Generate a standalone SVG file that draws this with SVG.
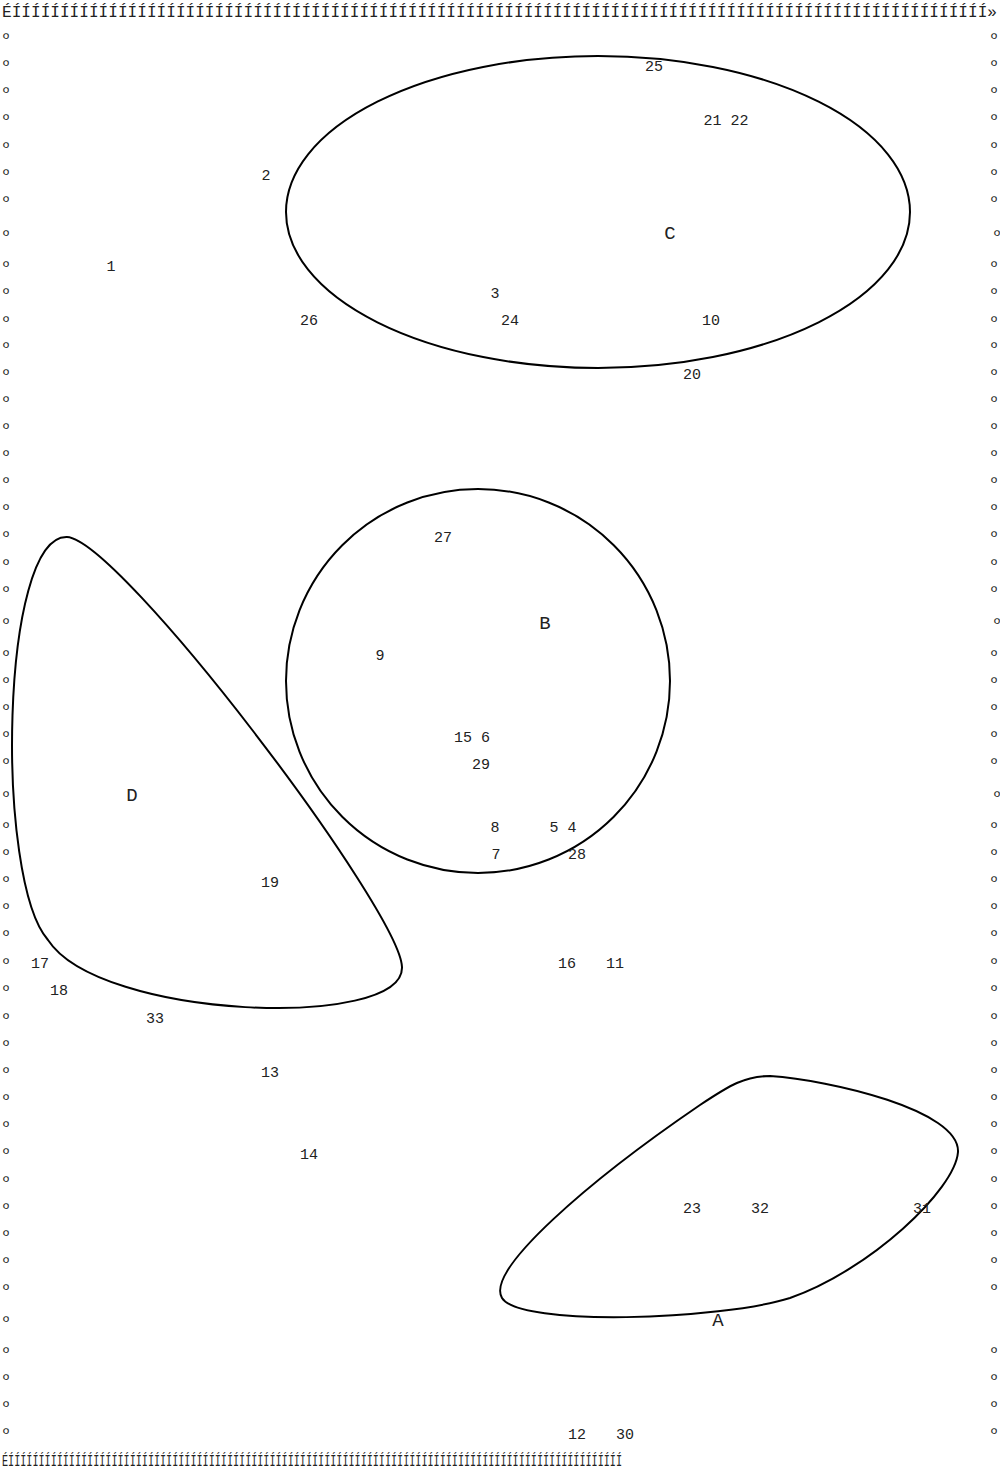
<svg xmlns="http://www.w3.org/2000/svg" width="1000" height="1473" viewBox="0 0 1000 1473">
<style>
.t{font-family:"Liberation Mono","DejaVu Sans Mono",monospace;font-size:15px;fill:#222;text-anchor:middle}
.b{font-family:"Liberation Mono","DejaVu Sans Mono",monospace;font-size:19px;fill:#222;text-anchor:middle}
.s{font-family:"Liberation Mono","DejaVu Sans Mono",monospace;font-size:15px;fill:#222;text-anchor:middle}
.f{font-family:"Liberation Mono","DejaVu Sans Mono",monospace;font-size:16px;fill:#222}
.sh{fill:none;stroke:#000;stroke-width:2}
</style>
<rect width="1000" height="1473" fill="#fff"/>
<g id="frame">
<text class="f" x="2" y="17" textLength="995" lengthAdjust="spacingAndGlyphs">ÉÍÍÍÍÍÍÍÍÍÍÍÍÍÍÍÍÍÍÍÍÍÍÍÍÍÍÍÍÍÍÍÍÍÍÍÍÍÍÍÍÍÍÍÍÍÍÍÍÍÍÍÍÍÍÍÍÍÍÍÍÍÍÍÍÍÍÍÍÍÍÍÍÍÍÍÍÍÍÍÍÍÍÍÍÍÍÍÍÍÍÍÍÍÍÍÍÍÍÍÍÍ»</text>
<text class="f" x="2" y="1466" textLength="620" lengthAdjust="spacingAndGlyphs">ÉÍÍÍÍÍÍÍÍÍÍÍÍÍÍÍÍÍÍÍÍÍÍÍÍÍÍÍÍÍÍÍÍÍÍÍÍÍÍÍÍÍÍÍÍÍÍÍÍÍÍÍÍÍÍÍÍÍÍÍÍÍÍÍÍÍÍÍÍÍÍÍÍÍÍÍÍÍÍÍÍÍÍÍÍÍÍÍÍÍÍÍÍÍÍÍÍÍÍÍÍÍ</text>
<g class="s">
<text x="6" y="44">º</text><text x="994" y="44">º</text>
<text x="6" y="71">º</text><text x="994" y="71">º</text>
<text x="6" y="98">º</text><text x="994" y="98">º</text>
<text x="6" y="125">º</text><text x="994" y="125">º</text>
<text x="6" y="153">º</text><text x="994" y="153">º</text>
<text x="6" y="180">º</text><text x="994" y="180">º</text>
<text x="6" y="207">º</text><text x="994" y="207">º</text>
<text x="6" y="241">º</text><text x="997" y="241">º</text>
<text x="6" y="272">º</text><text x="994" y="272">º</text>
<text x="6" y="299">º</text><text x="994" y="299">º</text>
<text x="6" y="327">º</text><text x="994" y="327">º</text>
<text x="6" y="353">º</text><text x="994" y="353">º</text>
<text x="6" y="380">º</text><text x="994" y="380">º</text>
<text x="6" y="407">º</text><text x="994" y="407">º</text>
<text x="6" y="434">º</text><text x="994" y="434">º</text>
<text x="6" y="461">º</text><text x="994" y="461">º</text>
<text x="6" y="488">º</text><text x="994" y="488">º</text>
<text x="6" y="515">º</text><text x="994" y="515">º</text>
<text x="6" y="542">º</text><text x="994" y="542">º</text>
<text x="6" y="570">º</text><text x="994" y="570">º</text>
<text x="6" y="597">º</text><text x="994" y="597">º</text>
<text x="6" y="629">º</text><text x="997" y="629">º</text>
<text x="6" y="661">º</text><text x="994" y="661">º</text>
<text x="6" y="688">º</text><text x="994" y="688">º</text>
<text x="6" y="715">º</text><text x="994" y="715">º</text>
<text x="6" y="742">º</text><text x="994" y="742">º</text>
<text x="6" y="769">º</text><text x="994" y="769">º</text>
<text x="6" y="802">º</text><text x="997" y="802">º</text>
<text x="6" y="833">º</text><text x="994" y="833">º</text>
<text x="6" y="860">º</text><text x="994" y="860">º</text>
<text x="6" y="887">º</text><text x="994" y="887">º</text>
<text x="6" y="914">º</text><text x="994" y="914">º</text>
<text x="6" y="941">º</text><text x="994" y="941">º</text>
<text x="6" y="969">º</text><text x="994" y="969">º</text>
<text x="6" y="996">º</text><text x="994" y="996">º</text>
<text x="6" y="1024">º</text><text x="994" y="1024">º</text>
<text x="6" y="1051">º</text><text x="994" y="1051">º</text>
<text x="6" y="1078">º</text><text x="994" y="1078">º</text>
<text x="6" y="1105">º</text><text x="994" y="1105">º</text>
<text x="6" y="1132">º</text><text x="994" y="1132">º</text>
<text x="6" y="1159">º</text><text x="994" y="1159">º</text>
<text x="6" y="1187">º</text><text x="994" y="1187">º</text>
<text x="6" y="1214">º</text><text x="994" y="1214">º</text>
<text x="6" y="1241">º</text><text x="994" y="1241">º</text>
<text x="6" y="1268">º</text><text x="994" y="1268">º</text>
<text x="6" y="1295">º</text><text x="994" y="1295">º</text>
<text x="6" y="1327">º</text>
<text x="6" y="1358">º</text><text x="994" y="1358">º</text>
<text x="6" y="1385">º</text><text x="994" y="1385">º</text>
<text x="6" y="1412">º</text><text x="994" y="1412">º</text>
<text x="6" y="1439">º</text><text x="994" y="1439">º</text>
</g>
</g>
<g id="connectors"></g>
<g id="C">
<ellipse class="sh" cx="598" cy="212" rx="312" ry="156"/>
<text class="b" x="670" y="239">C</text>
</g>
<g id="B">
<circle class="sh" cx="478" cy="681" r="192"/>
<text class="b" x="545" y="629">B</text>
</g>
<g id="D">
<path class="sh" d="M67,537 C120,540 400,910 402,967 C404,1030 100,1020 48,940 C-5,880 0,535 67,537 Z"/>
<text class="b" x="132" y="801">D</text>
</g>
<g id="A">
<path class="sh" d="M770,1076 C830,1080 960,1110 958,1152 C955,1190 870,1270 790,1298 C720,1320 520,1327 502,1298 C485,1270 590,1180 700,1105 C730,1085 745,1076 770,1076 Z"/>
<text class="b" x="718" y="1326">A</text>
</g>
<g id="labels" class="t">
<text x="654" y="71">25</text>
<text x="726" y="125">21 22</text>
<text x="266" y="180">2</text>
<text x="111" y="271">1</text>
<text x="495" y="298">3</text>
<text x="309" y="325">26</text>
<text x="510" y="325">24</text>
<text x="711" y="325">10</text>
<text x="692" y="379">20</text>
<text x="443" y="542">27</text>
<text x="380" y="660">9</text>
<text x="472" y="742">15 6</text>
<text x="481" y="769">29</text>
<text x="495" y="832">8</text>
<text x="563" y="832">5 4</text>
<text x="496" y="859">7</text>
<text x="577" y="859">28</text>
<text x="270" y="887">19</text>
<text x="40" y="968">17</text>
<text x="567" y="968">16</text>
<text x="615" y="968">11</text>
<text x="59" y="995">18</text>
<text x="155" y="1023">33</text>
<text x="270" y="1077">13</text>
<text x="309" y="1159">14</text>
<text x="692" y="1213">23</text>
<text x="760" y="1213">32</text>
<text x="922" y="1213">31</text>
<text x="577" y="1439">12</text>
<text x="625" y="1439">30</text>
</g>
</svg>
